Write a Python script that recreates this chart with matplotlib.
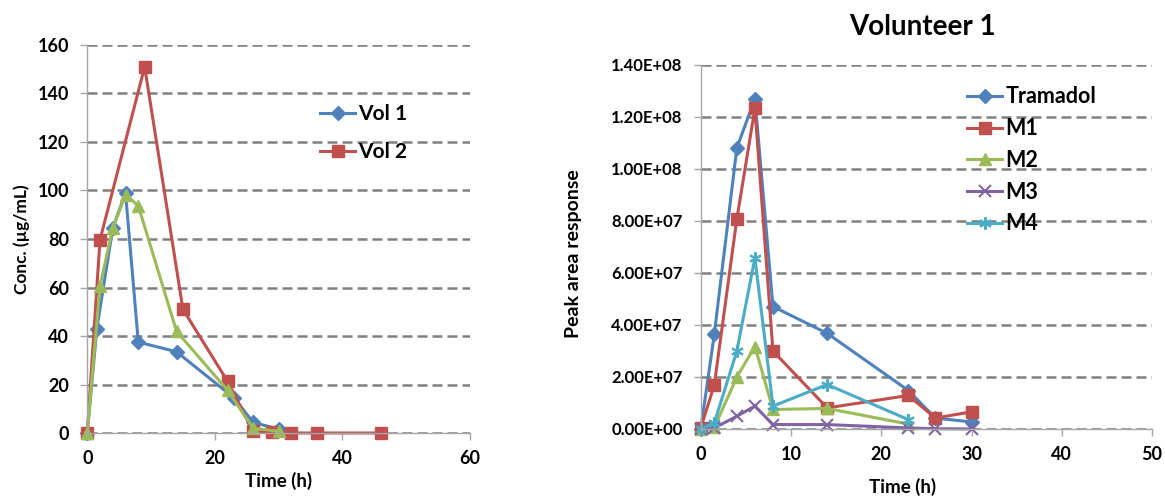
import numpy as np
import matplotlib.pyplot as plt

plt.rcParams['font.family'] = ['Lato', 'DejaVu Sans']
plt.rcParams['font.weight'] = 'bold'

# --- left panel: concentration ---
t_vol1 = [0, 1.5, 4, 6, 8, 14, 23, 26, 30]
c_vol1 = [0, 43, 84.5, 99, 37.5, 33.5, 14.5, 4.4, 1.6]

t_vol2 = [0, 2, 9, 15, 22, 26, 29, 32, 36, 46]
c_vol2 = [0, 79.7, 151, 51, 21.3, 0.7, 0.3, 0, 0, 0]

t_vol3 = [0, 2, 4, 6, 8, 14, 22, 26, 30]
c_vol3 = [0, 60.7, 84.5, 98.3, 93.7, 41.9, 17.6, 2, 0.7]

# --- right panel: Volunteer 1 peak areas ---
t_v1 = [0, 1.5, 4, 6, 8, 14, 23, 26, 30]
tramadol = [0, 3.64e7, 1.081e8, 1.27e8, 4.71e7, 3.68e7, 1.48e7, 4.2e6, 2.7e6]
m1 = [4e5, 1.69e7, 8.08e7, 1.233e8, 3.0e7, 8.1e6, 1.29e7, 4.2e6, 6.6e6]
t_short = [0, 1.5, 4, 6, 8, 14, 23]
m2 = [0, 6e5, 2.0e7, 3.17e7, 7.5e6, 7.9e6, 1.9e6]
m3 = [0, 4e5, 4.9e6, 8.8e6, 1.7e6, 1.7e6, 4e5, 1e5, 0]
m4 = [0, 2.3e6, 3.0e7, 6.58e7, 8.8e6, 1.71e7, 3.6e6]

blue = '#4F81BD'
red = '#C0504D'
green = '#9BBB59'
purple = '#8064A2'
cyan = '#4BACC6'

fig = plt.figure(figsize=(11.65, 4.96), dpi=100)
ax1 = fig.add_axes([0.0749, 0.127, 0.3285, 0.7823])
ax2 = fig.add_axes([0.6015, 0.1351, 0.3874, 0.7339])


def style_axes(ax):
    for s in ['top', 'right']:
        ax.spines[s].set_visible(False)
    for s in ['left', 'bottom']:
        ax.spines[s].set_color('#A6A6A6')
        ax.spines[s].set_linewidth(1.0)
    ax.yaxis.grid(True, color='#808080', linewidth=1.8, linestyle=(0, (4, 2)))
    ax.set_axisbelow(True)
    ax.tick_params(axis='both', colors='#A6A6A6', length=5, width=1.0,
                   labelcolor='black', labelsize=13)
    ax.tick_params(axis='y', pad=8)
    ax.tick_params(axis='x', pad=7)
    for lab in ax.get_xticklabels() + ax.get_yticklabels():
        lab.set_fontweight('bold')


lw = 2.2
ax1.plot(t_vol1, c_vol1, color=blue, lw=lw, marker='D', ms=7, label='Vol 1', clip_on=False)
ax1.plot(t_vol2, c_vol2, color=red, lw=lw, marker='s', ms=9, label='Vol 2', clip_on=False)
ax1.plot(t_vol3, c_vol3, color=green, lw=lw, marker='^', ms=9, clip_on=False)
ax1.set_xlim(0, 60)
ax1.set_ylim(0, 160)
ax1.set_xticks(np.arange(0, 61, 20))
ax1.set_yticks(np.arange(0, 161, 20))
style_axes(ax1)
ax1.set_xlabel('Time (h)', fontsize=13.5, fontweight='bold')
ax1.xaxis.set_label_coords(0.5, -0.100)
ax1.set_ylabel('Conc. (µg/mL)', fontsize=12.5, fontweight='bold')
ax1.yaxis.set_label_coords(-0.150, 0.5)
ax1.legend(loc='upper left', bbox_to_anchor=(0.2747, 0.790), bbox_transform=fig.transFigure,
           frameon=False, borderpad=0, borderaxespad=0,
           fontsize=15, handlelength=1.7, handletextpad=0.15, labelspacing=0.85)

ax2.plot(t_v1, tramadol, color=blue, lw=lw, marker='D', ms=7, label='Tramadol', clip_on=False)
ax2.plot(t_v1, m1, color=red, lw=lw, marker='s', ms=9, label='M1', clip_on=False)
ax2.plot(t_short, m2, color=green, lw=lw, marker='^', ms=9, label='M2', clip_on=False)
ax2.plot(t_v1, m3, color=purple, lw=lw, marker='x', ms=8, mew=1.5, label='M3', clip_on=False)
ax2.plot(t_short, m4, color=cyan, lw=lw, marker=(6, 2, 0), ms=9, mew=1.5, label='M4', clip_on=False)
ax2.set_xlim(0, 50)
ax2.set_ylim(0, 1.4e8)
ax2.set_xticks(np.arange(0, 51, 10))
yt = np.arange(0, 1.41e8, 2e7)
ax2.set_yticks(yt)
ax2.set_yticklabels(['%.2fE+%02d' % (v / 10 ** int(np.floor(np.log10(v))), int(np.floor(np.log10(v))))
                     if v > 0 else '0.00E+00' for v in yt])
style_axes(ax2)
ax2.tick_params(axis='y', labelsize=12)
ax2.set_xlabel('Time (h)', fontsize=13.5, fontweight='bold')
ax2.xaxis.set_label_coords(0.448, -0.1346)
ax2.set_ylabel('Peak area response', fontsize=14, fontweight='bold')
ax2.yaxis.set_label_coords(-0.263, 0.481)
fig.text(0.7914, 0.945, 'Volunteer 1', fontsize=20, fontweight='bold', ha='center', va='center')
ax2.legend(loc='upper left', bbox_to_anchor=(0.830, 0.826), bbox_transform=fig.transFigure,
           frameon=False, borderpad=0, borderaxespad=0,
           fontsize=15.5, handlelength=1.65, handletextpad=0.15, labelspacing=0.5)

fig.savefig('out.png', dpi=100)
